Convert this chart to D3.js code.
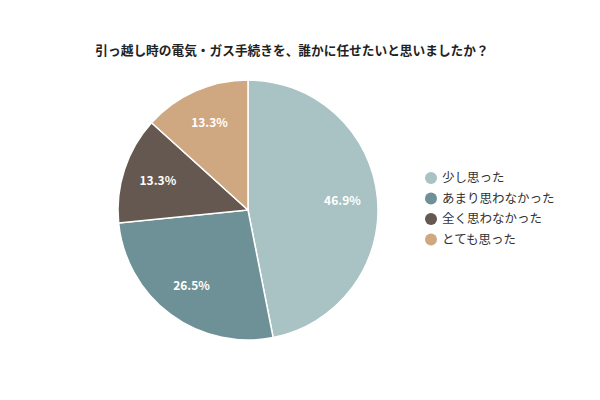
<!DOCTYPE html>
<html>
<head>
<meta charset="utf-8">
<script src="https://cdn.jsdelivr.net/npm/d3@7"></script>
<style>
  body { margin: 0; background: #fff; }
  text { font-family: "Noto Sans CJK JP", "Noto Sans", sans-serif; }
</style>
</head>
<body>
<div id="chart"></div>
<script>
const title = "引っ越し時の電気・ガス手続きを、誰かに任せたいと思いましたか？";
const categories = ["少し思った", "あまり思わなかった", "全く思わなかった", "とても思った"];
const values = [46.9, 26.5, 13.3, 13.3];
const colors = ["#a9c2c3", "#6d9196", "#655850", "#cfa882"];

const width = 600, height = 400;
const cx = 248, cy = 210, radius = 130;

const svg = d3.select("#chart").append("svg")
  .attr("width", width)
  .attr("height", height);

svg.append("text")
  .attr("x", 292)
  .attr("y", 55)
  .attr("text-anchor", "middle")
  .attr("font-size", "12.7px")
  .attr("font-weight", "bold")
  .attr("fill", "#222")
  .text(title);

const data = categories.map((c, i) => ({ name: c, value: values[i], color: colors[i] }));

const pie = d3.pie().value(d => d.value).sort(null);
const arc = d3.arc().innerRadius(0).outerRadius(radius);
const labelArc = d3.arc().innerRadius(radius * 0.73).outerRadius(radius * 0.73);

const g = svg.append("g").attr("transform", `translate(${cx},${cy})`);

g.selectAll("path")
  .data(pie(data))
  .join("path")
  .attr("d", arc)
  .attr("fill", d => d.data.color)
  .attr("stroke", "#fff")
  .attr("stroke-width", 1.5);

g.selectAll(".label")
  .data(pie(data))
  .join("text")
  .attr("class", "label")
  .attr("transform", d => `translate(${labelArc.centroid(d)})`)
  .attr("text-anchor", "middle")
  .attr("dy", "0.35em")
  .attr("font-size", "12px")
  .attr("font-weight", "bold")
  .attr("fill", "#fff")
  .text(d => d.data.value.toFixed(1) + "%");

// legend
const legend = svg.append("g").attr("transform", "translate(431,178)");
const rows = legend.selectAll("g")
  .data(data)
  .join("g")
  .attr("transform", (d, i) => `translate(0,${i * 20.5})`);

rows.append("circle")
  .attr("r", 6)
  .attr("fill", d => d.color);

rows.append("text")
  .attr("x", 11)
  .attr("dy", "0.35em")
  .attr("font-size", "12.5px")
  .attr("fill", "#333")
  .text(d => d.name);
</script>
</body>
</html>
